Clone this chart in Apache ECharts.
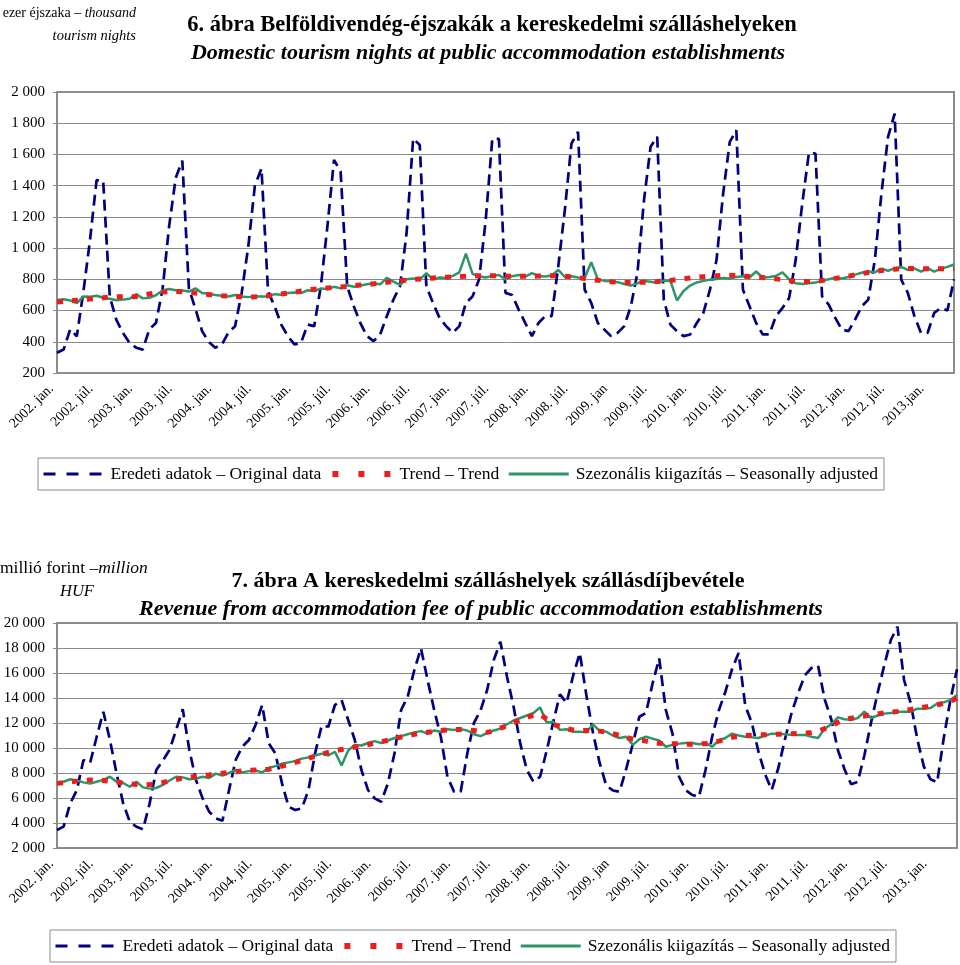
<!DOCTYPE html>
<html>
<head>
<meta charset="utf-8">
<script src="https://cdn.jsdelivr.net/npm/echarts@6/dist/echarts.min.js"></script>
<style>
html,body{margin:0;padding:0;background:#fff;}
#chart{width:960px;height:965px;}
</style>
</head>
<body>
<div id="chart"></div>
<script>
// ---------- Data ----------
const firstYear = 2002;
const monthCount = 137; // 2002 jan .. 2013 May

const tickLabels1 = ['2002. jan.','2002. júl.','2003. jan.','2003. júl.','2004. jan.','2004. júl.','2005. jan.','2005. júl.','2006. jan.','2006. júl.','2007. jan.','2007. júl.','2008. jan.','2008. júl.','2009. jan','2009. júl.','2010. jan.','2010. júl.','2011. jan.','2011. júl.','2012. jan.','2012. júl.','2013.jan.'];
const tickLabels2 = ['2002. jan.','2002. júl.','2003. jan.','2003. júl.','2004. jan.','2004. júl.','2005. jan.','2005. júl.','2006. jan.','2006. júl.','2007. jan.','2007. júl.','2008. jan.','2008. júl.','2009. jan','2009. júl.','2010. jan.','2010. júl.','2011. jan.','2011. júl.','2012. jan.','2012. júl.','2013. jan.'];

const yTicks1 = [200, 2000, 200];     // min, max, step
const yTicks2 = [2000, 20000, 2000];

// Chart 6: domestic tourism nights (thousand)
const nightsOriginal = [
  330, 350, 480, 435, 720, 1050, 1435, 1430, 690, 540, 457, 393,
  362, 350, 480, 520, 735, 1140, 1450, 1560, 740, 610, 468, 400,
  362, 383, 460, 500, 713, 1010, 1400, 1510, 720, 627, 510, 436,
  383, 393, 510, 500, 755, 1140, 1565, 1490, 755, 627, 520, 436,
  404, 447, 564, 670, 755, 1095, 1702, 1660, 755, 649, 553, 500,
  457, 500, 650, 690, 800, 1180, 1700, 1700, 713, 700, 606, 520,
  436, 520, 564, 564, 883, 1245, 1670, 1745, 734, 649, 520, 478,
  436, 457, 500, 627, 840, 1308, 1650, 1713, 670, 510, 468, 436,
  447, 520, 585, 734, 925, 1350, 1680, 1755, 734, 627, 520, 447,
  447, 564, 617, 680, 925, 1287, 1610, 1606, 691, 638, 553, 478,
  468, 542, 627, 670, 925, 1350, 1713, 1862, 798, 713, 564, 457,
  457, 585, 617, 600, 800
];
const nightsTrend = [
  655, 658, 662, 666, 670, 674, 678, 682, 686, 688, 688, 687,
  690, 698, 706, 713, 718, 722, 722, 720, 716, 712, 708, 703,
  699, 695, 692, 690, 688, 687, 688, 690, 694, 700, 706, 712,
  718, 725, 732, 737, 741, 745, 748, 751, 755, 759, 763, 767,
  771, 776, 781, 786, 791, 795, 799, 802, 805, 808, 811, 814,
  816, 818, 820, 822, 823, 823, 823, 822, 821, 820, 819, 819,
  820, 821, 822, 823, 822, 820, 816, 811, 805, 799, 794, 789,
  785, 782, 780, 780, 781, 782, 784, 786, 789, 793, 798, 804,
  809, 813, 817, 820, 823, 826, 826, 824, 821, 818, 815, 812,
  808, 803, 798, 793, 789, 787, 786, 787, 792, 799, 806, 813,
  820, 828, 836, 844, 850, 856, 861, 865, 868, 869, 869, 868,
  867, 867, 867, 868, 870
];
const nightsSeasAdj = [
  668, 672, 665, 648, 690, 688, 695, 682, 676, 666, 670, 676,
  705, 678, 682, 698, 728, 738, 730, 728, 722, 742, 712, 708,
  700, 695, 690, 700, 690, 686, 692, 690, 690, 705, 702, 712,
  716, 712, 730, 725, 742, 738, 752, 742, 762, 752, 760, 768,
  775, 768, 810, 785, 765, 800, 806, 798, 840, 800, 812, 808,
  822, 845, 965, 835, 820, 812, 822, 828, 800, 820, 828, 818,
  840, 822, 818, 825, 860, 815, 820, 812, 808, 910, 800, 790,
  788, 782, 770, 760, 775, 790, 785, 778, 792, 790, 665, 725,
  760, 780, 790, 798, 802, 808, 805, 815, 820, 812, 850, 810,
  815, 822, 845, 800, 775, 770, 775, 780, 790, 800, 810, 805,
  815, 830, 842, 850, 845, 868, 855, 870, 880, 860, 870, 850,
  872, 850, 868, 880, 895
];

// Chart 7: revenue from accommodation fee (million HUF)
const revenueOriginal = [
  3440, 3710, 5570, 6640, 9040, 8800, 10900, 12900, 10640, 7970, 5570, 4100,
  3700, 3490, 5570, 8240, 9000, 9840, 11440, 13100, 9840, 7440, 5970, 4900,
  4370, 4180, 6640, 9040, 10100, 10640, 11840, 13440, 10370, 9570, 7170, 5300,
  5040, 5170, 6640, 9570, 11800, 11700, 13440, 13840, 12240, 10640, 8240, 6640,
  5970, 5700, 7170, 9570, 13040, 14110, 16240, 17970, 15440, 13040, 10900, 7700,
  6500, 6500, 9570, 12000, 13000, 14640, 17040, 18500, 15700, 13300, 10370, 8240,
  7300, 7700, 9800, 12100, 14300, 13600, 15800, 17600, 14200, 11200, 8800, 7000,
  6600, 6500, 8300, 10300, 12500, 12800, 15170, 17170, 13040, 11170, 7700, 6640,
  6240, 6100, 8240, 10900, 13000, 14500, 16300, 17600, 13400, 12000, 9700, 7900,
  6640, 8400, 10700, 12800, 14400, 15800, 16400, 16600, 13900, 12300, 9840, 8300,
  7100, 7300, 9400, 12000, 14400, 16600, 18640, 19700, 15440, 13600, 10700, 8500,
  7500, 7250, 10800, 13840, 16300
];
const revenueTrend = [
  7170, 7220, 7280, 7350, 7420, 7440, 7430, 7400, 7350, 7280, 7200, 7150,
  7080, 7040, 7070, 7140, 7250, 7370, 7480, 7580, 7660, 7720, 7790, 7850,
  7920, 7980, 8040, 8100, 8160, 8210, 8240, 8250, 8300, 8420, 8560, 8700,
  8850, 9000, 9180, 9350, 9500, 9650, 9780, 9880, 9980, 10080, 10180, 10280,
  10380, 10500, 10620, 10750, 10880, 11000, 11100, 11180, 11260, 11330, 11400, 11450,
  11480, 11490, 11460, 11400, 11300, 11250, 11380, 11580, 11800, 12020, 12250, 12480,
  12600, 12700, 12300, 11900, 11700, 11550, 11450, 11400, 11400, 11400, 11350, 11280,
  11150, 11000, 10850, 10700, 10620, 10550, 10450, 10380, 10350, 10350, 10330, 10300,
  10300, 10320, 10350, 10420, 10550, 10700, 10850, 10950, 11000, 11030, 11050, 11060,
  11080, 11100, 11120, 11150, 11170, 11200, 11230, 11350, 11550, 11800, 12050, 12250,
  12380, 12480, 12560, 12640, 12720, 12800, 12870, 12930, 13000, 13080, 13170, 13260,
  13350, 13460, 13580, 13750, 13970
];
const revenueSeasAdj = [
  7100, 7300, 7500, 7400, 7250, 7150, 7300, 7450, 7700, 7300, 7200, 6900,
  7300, 6850, 6750, 6800, 7050, 7400, 7700, 7650, 7500, 7550, 7700, 7600,
  7950, 7800, 8000, 8250, 8050, 8150, 8200, 8050, 8400, 8550, 8750, 8850,
  8950, 9150, 9250, 9400, 9550, 9400, 9700, 8600, 9800, 10250, 10200, 10400,
  10550, 10400, 10600, 10800, 10950, 11100, 11250, 11350, 11150, 11400, 11300, 11500,
  11450, 11500, 11400, 11100, 10950, 11200, 11400, 11550, 11900, 12200, 12400, 12600,
  12800, 13250, 12050, 12100, 11450, 11500, 11300, 11300, 11250, 11900, 11350, 11300,
  11000, 10800, 10900, 10250, 10700, 10900, 10750, 10600, 10100, 10250, 10350, 10400,
  10400, 10300, 10400, 10100, 10600, 10800, 11150, 11000, 10900, 10850, 10800, 11000,
  11150, 11150, 11100, 11050, 11050, 11050, 10900, 10800, 11550, 11900, 12450, 12300,
  12250, 12400, 12900, 12400, 12600, 12750, 12800, 12900, 12900, 12900, 13150, 13150,
  13200, 13550, 13650, 13850, 14250
];

const seriesNames = ['Eredeti adatok – Original data', 'Trend – Trend', 'Szezonális kiigazítás – Seasonally adjusted'];

// ---------- Build ----------
const months = [];
for (let i = 0; i < monthCount; i++) {
  const y = firstYear + Math.floor(i / 12);
  const m = (i % 12) + 1;
  months.push(y + '-' + (m < 10 ? '0' + m : m));
}

const FONT = '"Liberation Serif", "Times New Roman", serif';
const NAVY = '#000080', RED = '#ee1c1c', GREEN = '#2e9566', GRID = '#8c8c8c';

function thousands(v) {
  if (v >= 1000) {
    const r = v % 1000;
    return Math.floor(v / 1000) + ' ' + (r < 10 ? '00' + r : r < 100 ? '0' + r : r);
  }
  return String(v);
}

function xAxis(gridIndex, ticks) {
  return {
    type: 'category', gridIndex, data: months, boundaryGap: false,
    axisLine: { show: true, lineStyle: { color: GRID, width: 2 } },
    axisTick: { show: false },
    splitLine: { show: false },
    axisLabel: {
      interval: 5, rotate: 45, margin: 8, color: '#000',
      fontFamily: FONT, fontSize: 14, padding: [0, 8, 0, 0],
      formatter: (v, idx) => ticks[Math.round(idx / 6)] || ''
    }
  };
}
function yAxis(gridIndex, t) {
  return {
    type: 'value', gridIndex, min: t[0], max: t[1], interval: t[2],
    axisLine: { show: true, lineStyle: { color: GRID, width: 2 } },
    axisTick: { show: true, length: 4, lineStyle: { color: GRID, width: 1 } },
    splitLine: { show: true, lineStyle: { color: GRID, width: 1 } },
    axisLabel: { margin: 12, color: '#000', fontFamily: FONT, fontSize: 15, formatter: thousands }
  };
}
function lineSeries(idx, name, data, kind) {
  const s = { type: 'line', name, data, xAxisIndex: idx, yAxisIndex: idx, symbol: 'none', showSymbol: false, animation: false };
  if (kind === 0) { s.lineStyle = { color: NAVY, width: 2.7, type: [11, 6] }; s.itemStyle = { color: NAVY }; s.z = 2; }
  if (kind === 1) { s.lineStyle = { color: RED, width: 5, type: [6, 9] }; s.itemStyle = { color: RED }; s.z = 4; }
  if (kind === 2) { s.lineStyle = { color: GREEN, width: 2.5, type: 'solid' }; s.itemStyle = { color: GREEN }; s.z = 3; }
  return s;
}
function legend(left, top) {
  return {
    left, top, orient: 'horizontal',
    data: [
      { name: seriesNames[0], lineStyle: { color: NAVY, width: 3, type: [12, 11] } },
      { name: seriesNames[1], lineStyle: { color: RED, width: 6, type: [6, 20] } },
      { name: seriesNames[2], lineStyle: { color: GREEN, width: 3, type: 'solid' } }
    ],
    itemWidth: 60, itemHeight: 14, itemGap: 8,
    itemStyle: { opacity: 0 },
    padding: [7, 6, 7, 4],
    borderColor: GRID, borderWidth: 1,
    textStyle: { fontFamily: FONT, fontSize: 17.5, color: '#000', padding: [0, 0, 0, 2] },
    selectedMode: false
  };
}
function txt(x, y, text, opt) {
  return {
    type: 'text', x, y, silent: true,
    style: Object.assign({ text, fill: '#000', fontFamily: FONT, fontSize: 15, textAlign: 'left', textVerticalAlign: 'middle' }, opt || {})
  };
}

const chart = echarts.init(document.getElementById('chart'), null, { renderer: 'canvas' });
chart.setOption({
  backgroundColor: '#fff',
  animation: false,
  grid: [
    { left: 57, right: 6, top: 92, bottom: 592, show: true, borderColor: GRID, borderWidth: 2, containLabel: false },
    { left: 57, right: 3, top: 623, bottom: 117, show: true, borderColor: GRID, borderWidth: 2, containLabel: false }
  ],
  xAxis: [xAxis(0, tickLabels1), xAxis(1, tickLabels2)],
  yAxis: [yAxis(0, yTicks1), yAxis(1, yTicks2)],
  legend: [legend(38, 458), legend(50, 930)],
  series: [
    lineSeries(0, seriesNames[0], nightsOriginal, 0),
    lineSeries(0, seriesNames[1], nightsTrend, 1),
    lineSeries(0, seriesNames[2], nightsSeasAdj, 2),
    lineSeries(1, seriesNames[0], revenueOriginal, 0),
    lineSeries(1, seriesNames[1], revenueTrend, 1),
    lineSeries(1, seriesNames[2], revenueSeasAdj, 2)
  ],
  graphic: [
    txt(136, 13, '{n|ezer éjszaka – }{i|thousand}', { textAlign: 'right', rich: {
      n: { fontFamily: FONT, fontSize: 14, fill: '#000' },
      i: { fontFamily: FONT, fontSize: 14, fontStyle: 'italic', fill: '#000' } } }),
    txt(136, 36, 'tourism nights', { textAlign: 'right', fontStyle: 'italic', fontSize: 14.5 }),
    txt(492, 25, '6. ábra Belföldivendég-éjszakák a kereskedelmi szálláshelyeken', { textAlign: 'center', fontSize: 22.5, fontWeight: 'bold' }),
    txt(488, 53, 'Domestic tourism nights at public accommodation establishments', { textAlign: 'center', fontSize: 22, fontWeight: 'bold', fontStyle: 'italic' }),
    txt(0, 568, '{n|millió forint –}{i|million}', { rich: {
      n: { fontFamily: FONT, fontSize: 17.5, fill: '#000' },
      i: { fontFamily: FONT, fontSize: 17.5, fontStyle: 'italic', fill: '#000' } } }),
    txt(60, 592, 'HUF', { fontStyle: 'italic', fontSize: 16.5 }),
    txt(488, 581, '7. ábra A kereskedelmi szálláshelyek szállásdíjbevétele', { textAlign: 'center', fontSize: 22, fontWeight: 'bold' }),
    txt(481, 609, 'Revenue from accommodation fee of public accommodation establishments', { textAlign: 'center', fontSize: 22, fontWeight: 'bold', fontStyle: 'italic' })
  ]
});
</script>
</body>
</html>
